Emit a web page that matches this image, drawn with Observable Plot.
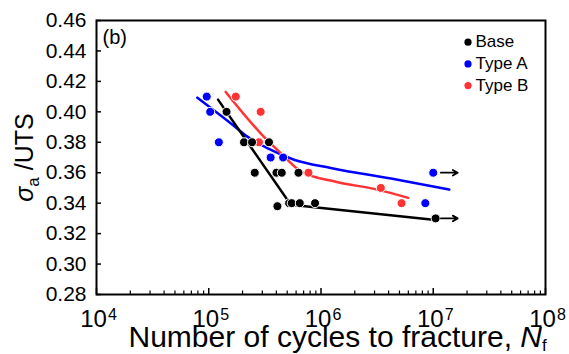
<!DOCTYPE html>
<html><head><meta charset="utf-8">
<script src="https://cdn.jsdelivr.net/npm/d3@7"></script>
<script src="https://cdn.jsdelivr.net/npm/@observablehq/plot@0.6"></script>
<style>body{margin:0;background:#fff;}</style>
</head><body><div id="chart"></div>
<script>
// ---- data ----
const seriesNames = ["Base", "Type A", "Type B"];
const seriesColors = ["#000000", "#0000ff", "#ff3333"];

const baseN = [1.44e5, 2.06e5, 2.43e5, 3.44e5, 2.57e5, 4.01e5, 4.47e5, 6.30e5, 4.09e5, 5.20e5, 5.48e5, 6.47e5, 8.85e5, 1.05e7];
const baseS = [0.400, 0.380, 0.380, 0.380, 0.360, 0.360, 0.360, 0.360, 0.338, 0.340, 0.340, 0.340, 0.340, 0.330];
const typeAN = [9.6e4, 1.03e5, 1.23e5, 3.56e5, 4.6e5, 8.5e6, 1.0e7];
const typeAS = [0.410, 0.400, 0.380, 0.370, 0.370, 0.340, 0.360];
const typeBN = [1.74e5, 2.90e5, 2.80e5, 7.73e5, 3.41e6, 5.22e6];
const typeBS = [0.410, 0.400, 0.380, 0.360, 0.350, 0.340];

// fitted curves
const baseFitN = [1.21e5, 5.38e5, 1.05e7];
const baseFitS = [0.408, 0.339, 0.329];
const typeAFitN = [7.91e4, 1.567e5, 2.21e5, 3.33e5, 5.75e5, 1.22e6, 4.81e6, 1.39e7];
const typeAFitS = [0.4093, 0.3925, 0.3837, 0.3761, 0.3685, 0.3631, 0.3554, 0.3489];
const typeBFitN = [1.416e5, 2.90e5, 4.38e5, 6.61e5, 1.355e6, 3.19e6, 5.98e6];
const typeBFitS = [0.4131, 0.3859, 0.3729, 0.3609, 0.3541, 0.3489, 0.3435];

// run-outs (arrows)
const runoutStartN = [1.17e7, 1.17e7];
const runoutEndN = [1.65e7, 1.65e7];
const runoutS = [0.360, 0.330];

// ticks / labels
const yTicks = [0.28, 0.30, 0.32, 0.34, 0.36, 0.38, 0.40, 0.42, 0.44, 0.46];
const xDecades = [1e4, 1e5, 1e6, 1e7, 1e8];
const xBase = "10";
const xExponents = ["4", "5", "6", "7", "8"];
const xTitle = "Number of cycles to fracture, ";
const xTitleVar = "N";
const xTitleSub = "f";
const yTitleSym = "σ";
const yTitleSub = "a";
const yTitleRest = " /UTS";
const panelLabel = "(b)";

// ---- tables ----
const table = (N, S) => N.map((n, i) => ({N: n, S: S[i]}));
const pts = [table(baseN, baseS), table(typeAN, typeAS), table(typeBN, typeBS)];
const fits = [table(baseFitN, baseFitS), table(typeAFitN, typeAFitS), table(typeBFitN, typeBFitS)];
const runouts = runoutS.map((s, i) => ({N1: runoutStartN[i], N2: runoutEndN[i], S: s}));
const xMinor = [];
for (let k = 0; k < xDecades.length - 1; k++) for (let m = 2; m <= 9; m++) xMinor.push(xDecades[k] * m);

const W = 569, H = 354, mL = 96, mR = 24, mT = 20, mB = 60;
const plotW = W - mL - mR, plotH = H - mT - mB;

const legendMarks = seriesNames.flatMap((name, i) => [
  Plot.dot([name], {frameAnchor: "top-left", dx: 371.5, dy: 21.7 + i * 21.7, r: 3.6, fill: seriesColors[i]}),
  Plot.text([name], {frameAnchor: "top-left", dx: 379, dy: 26.7 + i * 21.7, text: d => d, textAnchor: "start", lineAnchor: "bottom", fontSize: 17, fill: "black"})
]);

const drawOrder = [1, 2, 0];
const chart = Plot.plot({
  width: W, height: H,
  marginLeft: mL, marginRight: mR, marginTop: mT, marginBottom: mB,
  style: {fontFamily: "Liberation Sans, Arial, sans-serif", fontSize: "16px", background: "white", color: "black"},
  x: {type: "log", domain: [1e4, 1e8], axis: null},
  y: {domain: [0.28, 0.46], axis: null},
  marks: [
    Plot.tickY(yTicks, {y: d => d, insetRight: plotW - 5, stroke: "black", strokeWidth: 1.5}),
    Plot.tickX(xDecades, {x: d => d, insetTop: plotH - 6, stroke: "black", strokeWidth: 1.5}),
    Plot.tickX(xMinor, {x: d => d, insetTop: plotH - 3.5, stroke: "black", strokeWidth: 1.2}),
    Plot.frame({stroke: "black", strokeWidth: 2}),
    Plot.axisY(yTicks, {tickSize: 0, tickPadding: 10, tickFormat: d => d.toFixed(2), fontSize: 21, label: null}),
    Plot.text(xDecades, {x: d => d, text: () => xBase, frameAnchor: "bottom", textAnchor: "middle", lineAnchor: "bottom", dx: 2, dy: 32, fontSize: 24, ariaDescription: "x-ticklabels"}),
    Plot.text([xTitle], {frameAnchor: "bottom-left", dx: 32, dy: 52, textAnchor: "start", lineAnchor: "bottom", fontSize: 30, ariaDescription: "x-title"}),
    Plot.text([yTitleSym], {frameAnchor: "left", dx: -72, rotate: -90, textAnchor: "middle", lineAnchor: "middle", fontSize: 25, ariaDescription: "y-title"}),
    Plot.text([panelLabel], {frameAnchor: "top-left", dx: 6, dy: 23, textAnchor: "start", lineAnchor: "bottom", fontSize: 20}),
    ...drawOrder.map(i => Plot.line(fits[i], {x: "N", y: "S", stroke: seriesColors[i], strokeWidth: 2.5, curve: i === 0 ? "linear" : "monotone-x"})),
    ...drawOrder.map(i => Plot.dot(pts[i], {x: "N", y: "S", r: 4.5, fill: seriesColors[i], stroke: "white", strokeWidth: 1})),
    Plot.arrow(runouts, {x1: "N1", x2: "N2", y1: "S", y2: "S", stroke: "black", strokeWidth: 1.8, headLength: 6}),
    ...legendMarks
  ]
});

// rich text: superscripts / subscripts
const sel = d3.select(chart);
sel.selectAll('g[aria-description="x-ticklabels"] text').each(function(d, i) {
  d3.select(this).append("tspan").attr("font-size", 16).attr("dx", 1).attr("dy", -7).text(xExponents[i]);
});
const xt = sel.select('g[aria-description="x-title"] text');
xt.append("tspan").attr("font-style", "italic").text(xTitleVar);
xt.append("tspan").attr("font-size", 17).attr("dy", 4).text(xTitleSub);
const yt = sel.select('g[aria-description="y-title"] text');
yt.attr("font-style", "italic");
yt.append("tspan").attr("font-style", "normal").attr("font-size", 17).attr("dy", 6).text(yTitleSub);
yt.append("tspan").attr("font-style", "normal").attr("dy", -6).text(yTitleRest);

document.getElementById("chart").appendChild(chart);
</script>
</body></html>
